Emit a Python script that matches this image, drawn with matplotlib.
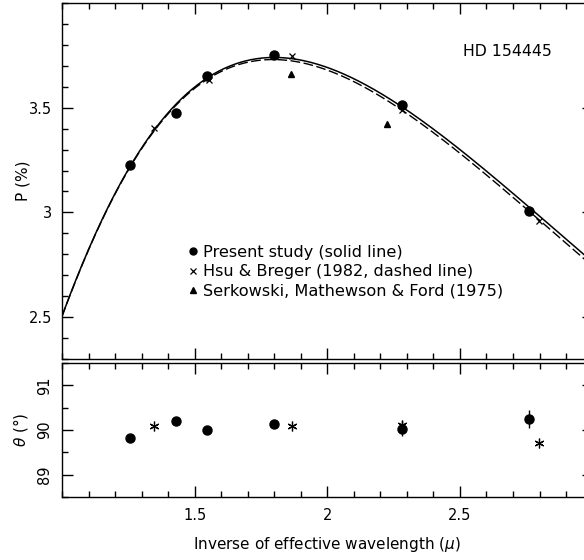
import numpy as np
import matplotlib.pyplot as plt
from matplotlib.lines import Line2D
from matplotlib.ticker import MultipleLocator, FormatStrFormatter

plt.rcParams['font.family'] = 'DejaVu Sans'
plt.rcParams['font.size'] = 10.5

# polarization, present study
x_ps = [1.258, 1.430, 1.547, 1.800, 2.280, 2.762]
p_ps = [3.227, 3.476, 3.650, 3.752, 3.513, 3.009]
th_ps = [89.82, 90.21, 90.00, 90.14, 90.03, 90.24]
th_ps_err = [0.04, 0.04, 0.06, 0.04, 0.17, 0.20]

# Hsu & Breger (1982)
x_hb = [1.346, 1.553, 1.868, 2.280, 2.797]
p_hb = [3.403, 3.630, 3.746, 3.490, 2.960]
th_hb = [90.10, None, 90.10, 90.11, 89.70]

# Serkowski, Mathewson & Ford (1975)
x_smf = [1.864, 2.226]
p_smf = [3.663, 3.423]

# Serkowski law fits: Pmax (%), 1/lambda_max (1/micron), K
fit_ps = (3.74, 1.80, 1.16)
fit_hb = (3.73, 1.795, 1.165)


def serkowski(x, pmax, xmax, k):
    return pmax * np.exp(-k * np.log(x / xmax) ** 2)


W, H = 584, 560
fig = plt.figure(figsize=(W / 100, H / 100), dpi=100)
left = 62 / W
width = 530.6 / W
ax1 = fig.add_axes([left, 1 - 359 / H, width, 356 / H])
ax2 = fig.add_axes([left, 1 - 497 / H, width, 134 / H])

xx = np.linspace(1.0, 3.0, 400)
ax1.plot(xx, serkowski(xx, *fit_ps), color='black', lw=1.1)
ax1.plot(xx, serkowski(xx, *fit_hb), color='black', lw=1.0,
         dashes=(7, 2.5))
ax1.plot(x_ps, p_ps, 'o', color='black', ms=6.5)
ax1.plot(x_hb, p_hb, 'x', color='black', ms=4, mew=0.9)
ax1.plot(x_smf, p_smf, '^', color='black', ms=4)

ax1.set_xlim(1.0, 3.0)
ax1.set_ylim(2.3, 4.0)
ax1.set_ylabel('P (%)', fontsize=11)
ax1.yaxis.set_label_coords(-32 / 530.6, 0.5)
ax1.text(2.51, 3.77, 'HD 154445', fontsize=11.3, va='center')

handles = [
    Line2D([], [], ls='none', marker='o', color='black', ms=5),
    Line2D([], [], ls='none', marker='x', color='black', ms=4, mew=0.9),
    Line2D([], [], ls='none', marker='^', color='black', ms=4),
]
labels = ['Present study (solid line)',
          'Hsu & Breger (1982, dashed line)',
          'Serkowski, Mathewson & Ford (1975)']
ax1.legend(handles, labels, loc='upper left', frameon=False, fontsize=11.6,
           bbox_to_anchor=(188 / W, 1 - 245 / H), bbox_transform=fig.transFigure,
           handlelength=0.6, handletextpad=0.35, labelspacing=0.27,
           borderpad=0, borderaxespad=0)

# position angle panel
ax2.errorbar(x_ps, th_ps, yerr=th_ps_err, fmt='o', color='black', ms=6.5,
             elinewidth=1.0, capsize=0)
hb_x = [x for x, t in zip(x_hb, th_hb) if t is not None]
hb_t = [t for t in th_hb if t is not None]
ax2.plot(hb_x, hb_t, ls='none', marker=(6, 2, 0), color='black', ms=7, mew=0.9)

ax2.set_xlim(1.0, 3.0)
ax2.set_ylim(88.5, 91.5)
ax2.set_ylabel(r'$\theta$ (°)', fontsize=11)
ax2.yaxis.set_label_coords(-32 / 530.6, 0.5)
ax2.set_xlabel(r'Inverse of effective wavelength ($\mu$)', fontsize=11)
ax2.xaxis.set_label_coords(0.5, -38 / 134)

for ax in (ax1, ax2):
    ax.set_xticks([1.5, 2.0, 2.5])
    ax.xaxis.set_minor_locator(MultipleLocator(0.1))
    ax.xaxis.set_major_formatter(FormatStrFormatter('%g'))
    ax.yaxis.set_major_formatter(FormatStrFormatter('%g'))
    ax.tick_params(which='both', direction='in', top=True, right=True,
                   width=1.0, labelsize=10.5)
    ax.tick_params(which='major', length=8, pad=8)
    ax.tick_params(which='minor', length=4)
    ax.tick_params(axis='y', which='major', pad=7)
    for s in ax.spines.values():
        s.set_linewidth(1.0)

ax1.set_yticks([2.5, 3.0, 3.5])
ax1.yaxis.set_minor_locator(MultipleLocator(0.1))
ax1.tick_params(labelbottom=False)
ax2.set_yticks([89, 90, 91])
ax2.yaxis.set_minor_locator(MultipleLocator(0.5))
for lab in ax2.get_yticklabels():
    lab.set_rotation(90)
    lab.set_va('center')

fig.savefig('out.png', dpi=100)
